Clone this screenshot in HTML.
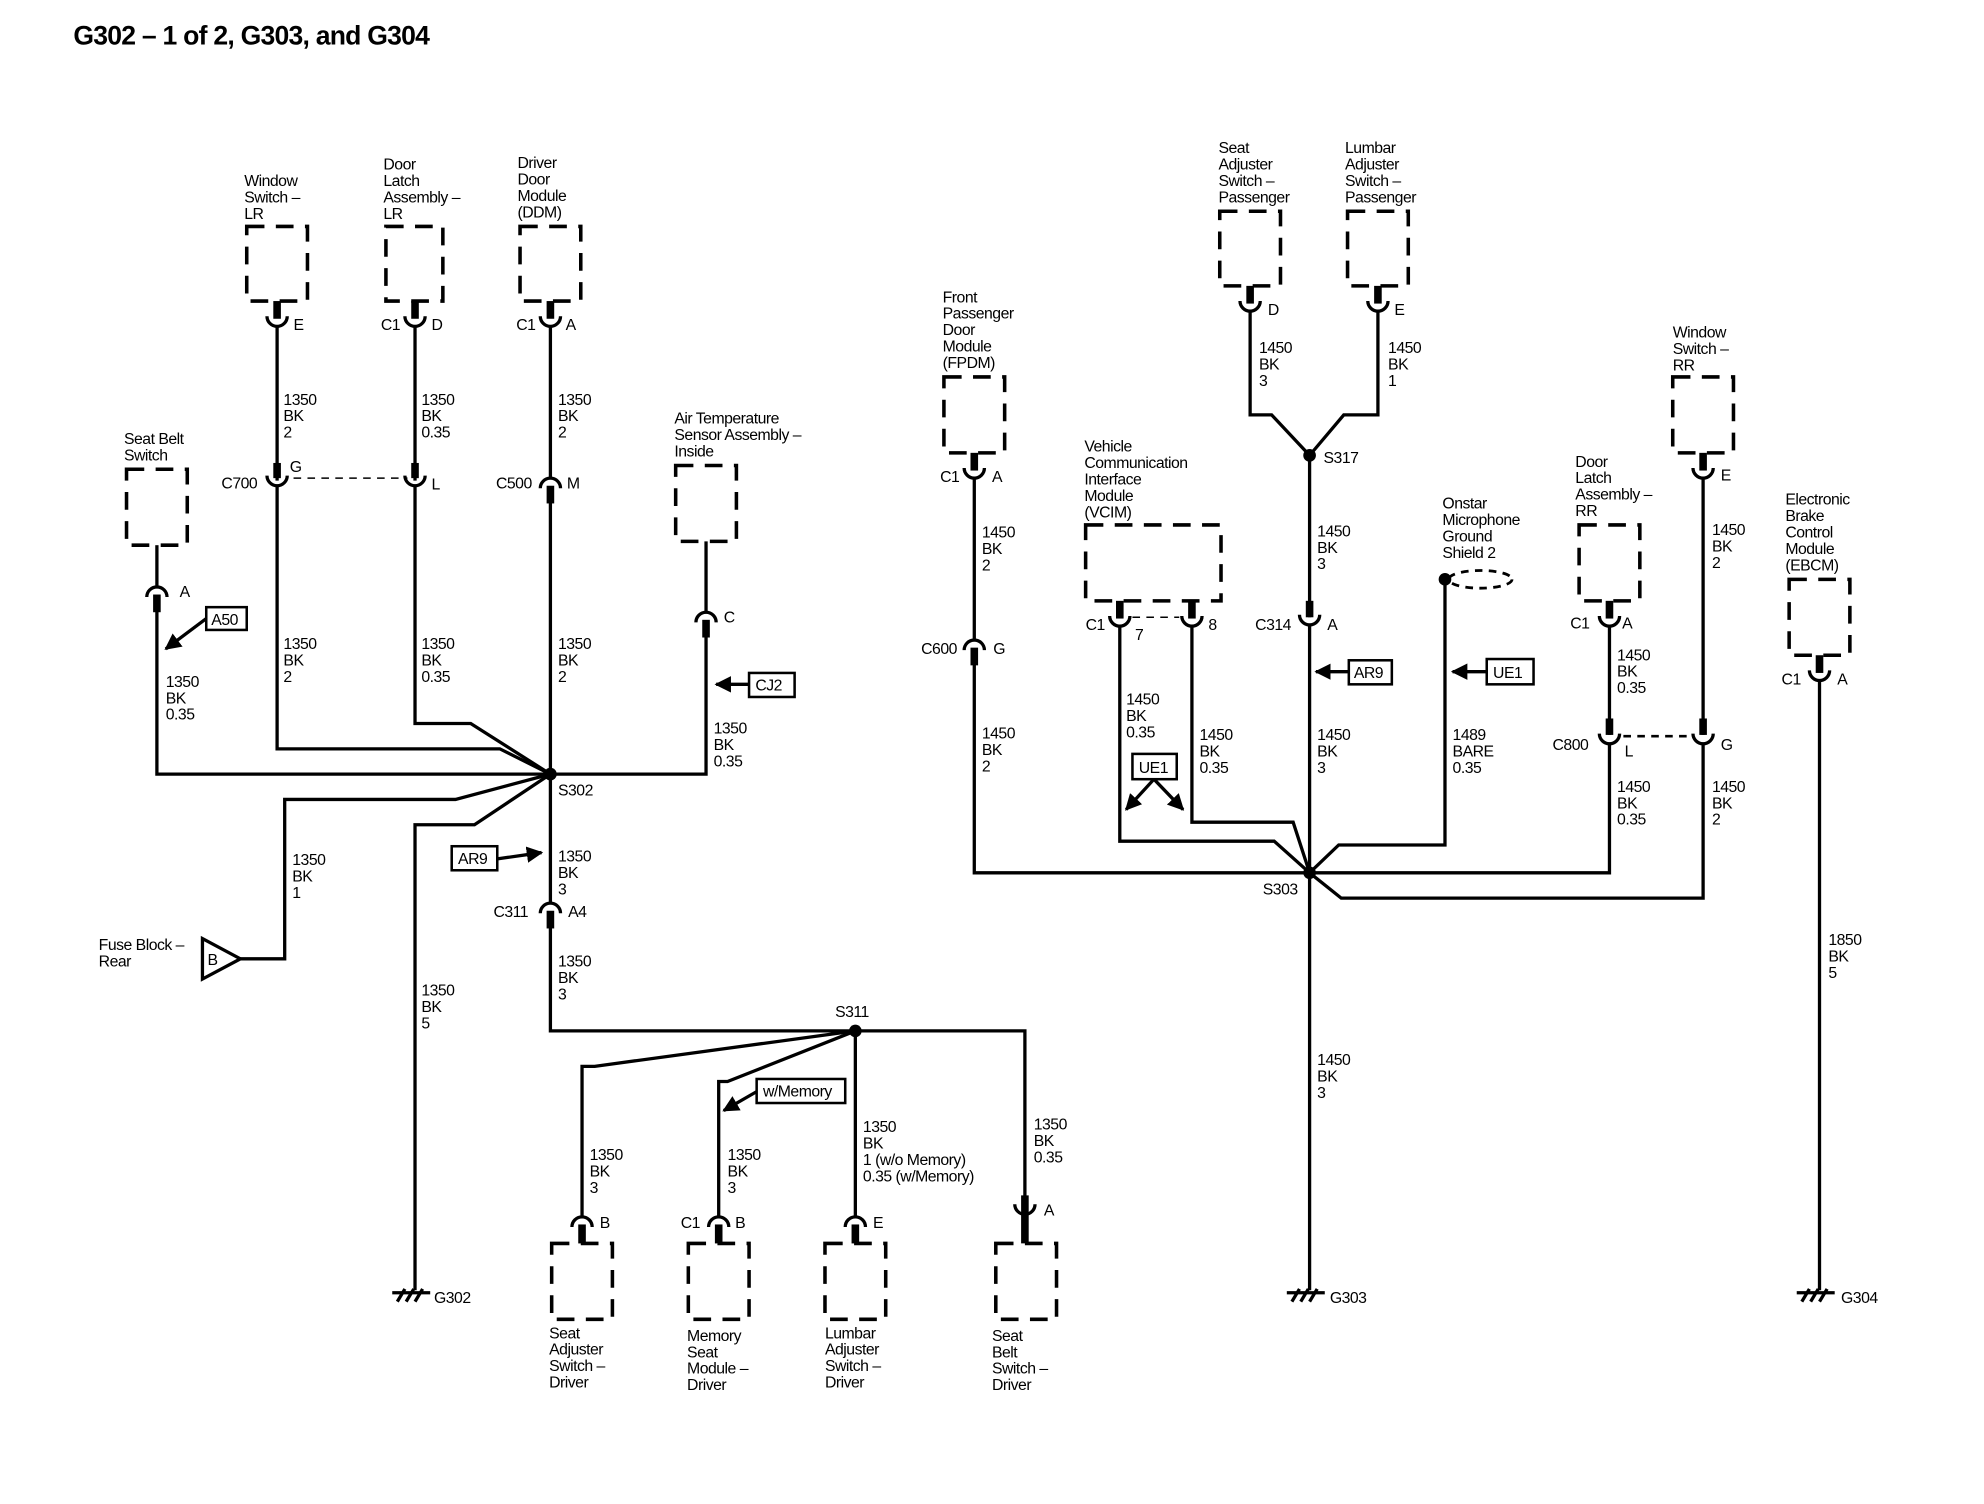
<!DOCTYPE html>
<html><head><style>
html,body{margin:0;padding:0;background:#fff;}
svg{display:block;}
text{font-family:"Liberation Sans",sans-serif;font-size:12.5px;fill:#000;letter-spacing:-0.4px;}
.w{stroke:#000;stroke-width:2.6;fill:none;}
.s{stroke:#000;stroke-width:6;fill:none;}
.b{stroke:#000;stroke-width:2.8;fill:none;stroke-dasharray:14 9;}
.d{stroke:#000;stroke-width:1.2;fill:none;stroke-dasharray:6 5;}
.bx{stroke:#000;stroke-width:2;fill:#fff;}
</style></head><body>
<svg width="1984" height="1504" viewBox="0 0 1568 1189" preserveAspectRatio="none">
<defs>
<marker id="ar" viewBox="0 0 10 10" refX="9" refY="5" markerWidth="5" markerHeight="5" orient="auto-start-reverse"><path d="M0,0 L10,5 L0,10 z" fill="#000"/></marker>
</defs>
<text x="58" y="35" style="font-size:21px;font-weight:bold;letter-spacing:-0.6px">G302 – 1 of 2, G303, and G304</text>

<!-- ===== LEFT ===== -->
<text x="193" y="147"><tspan x="193">Window</tspan><tspan x="193" dy="13">Switch –</tspan><tspan x="193" dy="13">LR</tspan></text>
<rect class="b" x="195" y="179" width="48" height="59"/>
<line class="s" x1="219" y1="238" x2="219" y2="252"/>
<path class="w" d="M211,250 A8,8 0 0 0 227,250"/>
<text x="232" y="261">E</text>
<line class="w" x1="219" y1="258" x2="219" y2="380"/>
<text x="224" y="320"><tspan x="224">1350</tspan><tspan x="224" dy="13">BK</tspan><tspan x="224" dy="13">2</tspan></text>
<line class="s" x1="219" y1="366" x2="219" y2="378"/>
<path class="w" d="M211,376 A8,8 0 0 0 227,376"/>
<text x="229" y="373">G</text><text x="175" y="386">C700</text>
<line class="d" x1="232" y1="378" x2="322" y2="378"/>
<text x="224" y="513"><tspan x="224">1350</tspan><tspan x="224" dy="13">BK</tspan><tspan x="224" dy="13">2</tspan></text>
<polyline class="w" points="219,384 219,592 395,592 435,612"/>

<text x="303" y="134"><tspan x="303">Door</tspan><tspan x="303" dy="13">Latch</tspan><tspan x="303" dy="13">Assembly –</tspan><tspan x="303" dy="13">LR</tspan></text>
<rect class="b" x="305" y="179" width="45" height="59"/>
<line class="s" x1="328" y1="238" x2="328" y2="252"/>
<path class="w" d="M320,250 A8,8 0 0 0 336,250"/>
<text x="301" y="261">C1</text><text x="341" y="261">D</text>
<line class="w" x1="328" y1="258" x2="328" y2="380"/>
<text x="333" y="320"><tspan x="333">1350</tspan><tspan x="333" dy="13">BK</tspan><tspan x="333" dy="13">0.35</tspan></text>
<line class="s" x1="328" y1="366" x2="328" y2="378"/>
<path class="w" d="M320,376 A8,8 0 0 0 336,376"/>
<text x="341" y="387">L</text>
<text x="333" y="513"><tspan x="333">1350</tspan><tspan x="333" dy="13">BK</tspan><tspan x="333" dy="13">0.35</tspan></text>
<polyline class="w" points="328,384 328,572 372,572 435,612"/>

<text x="409" y="133"><tspan x="409">Driver</tspan><tspan x="409" dy="13">Door</tspan><tspan x="409" dy="13">Module</tspan><tspan x="409" dy="13">(DDM)</tspan></text>
<rect class="b" x="411" y="179" width="48" height="59"/>
<line class="s" x1="435" y1="238" x2="435" y2="252"/>
<path class="w" d="M427,250 A8,8 0 0 0 443,250"/>
<text x="408" y="261">C1</text><text x="447" y="261">A</text>
<line class="w" x1="435" y1="258" x2="435" y2="378"/>
<text x="441" y="320"><tspan x="441">1350</tspan><tspan x="441" dy="13">BK</tspan><tspan x="441" dy="13">2</tspan></text>
<path class="w" d="M427,386 A8,8 0 0 1 443,386"/>
<line class="s" x1="435" y1="384" x2="435" y2="398"/>
<text x="392" y="386">C500</text><text x="448" y="386">M</text>
<line class="w" x1="435" y1="396" x2="435" y2="612"/>
<text x="441" y="513"><tspan x="441">1350</tspan><tspan x="441" dy="13">BK</tspan><tspan x="441" dy="13">2</tspan></text>

<text x="98" y="351"><tspan x="98">Seat Belt</tspan><tspan x="98" dy="13">Switch</tspan></text>
<rect class="b" x="100" y="371" width="48" height="60"/>
<line class="w" x1="124" y1="431" x2="124" y2="464"/>
<path class="w" d="M116,472 A8,8 0 0 1 132,472"/>
<line class="s" x1="124" y1="470" x2="124" y2="484"/>
<text x="142" y="472">A</text>
<polyline class="w" points="124,482 124,612 435,612"/>
<text x="131" y="543"><tspan x="131">1350</tspan><tspan x="131" dy="13">BK</tspan><tspan x="131" dy="13">0.35</tspan></text>
<rect class="bx" x="163" y="480" width="32" height="18"/><text x="167" y="494">A50</text>
<line class="w" x1="163" y1="489" x2="131" y2="513" marker-end="url(#ar)"/>

<text x="533" y="335"><tspan x="533">Air Temperature</tspan><tspan x="533" dy="13">Sensor Assembly –</tspan><tspan x="533" dy="13">Inside</tspan></text>
<rect class="b" x="534" y="368" width="48" height="60"/>
<line class="w" x1="558" y1="428" x2="558" y2="484"/>
<path class="w" d="M550,492 A8,8 0 0 1 566,492"/>
<line class="s" x1="558" y1="490" x2="558" y2="504"/>
<text x="572" y="492">C</text>
<polyline class="w" points="558,502 558,612 435,612"/>
<text x="564" y="580"><tspan x="564">1350</tspan><tspan x="564" dy="13">BK</tspan><tspan x="564" dy="13">0.35</tspan></text>
<rect class="bx" x="592" y="532" width="36" height="19"/><text x="597" y="546">CJ2</text>
<line class="w" x1="592" y1="541" x2="566" y2="541" marker-end="url(#ar)"/>

<circle cx="435" cy="612" r="5"/>
<text x="441" y="629">S302</text>
<polyline class="w" points="435,612 360,632 225,632 225,758 190,758"/>
<path class="w" d="M160,742 L190,758 L160,774 z"/>
<text x="164" y="763">B</text>
<text x="78" y="751"><tspan x="78">Fuse Block –</tspan><tspan x="78" dy="13">Rear</tspan></text>
<text x="231" y="684"><tspan x="231">1350</tspan><tspan x="231" dy="13">BK</tspan><tspan x="231" dy="13">1</tspan></text>
<polyline class="w" points="435,612 375,652 328,652 328,1020"/>
<text x="333" y="787"><tspan x="333">1350</tspan><tspan x="333" dy="13">BK</tspan><tspan x="333" dy="13">5</tspan></text>
<line class="w" x1="310" y1="1022" x2="340" y2="1022"/><path class="w" d="M314,1029 L320,1019 M321,1029 L327,1019 M328,1029 L334,1019"/>
<text x="343" y="1030">G302</text>

<line class="w" x1="435" y1="612" x2="435" y2="714"/>
<text x="441" y="681"><tspan x="441">1350</tspan><tspan x="441" dy="13">BK</tspan><tspan x="441" dy="13">3</tspan></text>
<rect class="bx" x="357" y="669" width="36" height="19"/><text x="362" y="683">AR9</text>
<line class="w" x1="393" y1="679" x2="428" y2="674" marker-end="url(#ar)"/>
<path class="w" d="M427,722 A8,8 0 0 1 443,722"/>
<line class="s" x1="435" y1="720" x2="435" y2="734"/>
<text x="390" y="725">C311</text><text x="449" y="725">A4</text>
<polyline class="w" points="435,732 435,815 810,815 810,950"/>
<text x="441" y="764"><tspan x="441">1350</tspan><tspan x="441" dy="13">BK</tspan><tspan x="441" dy="13">3</tspan></text>
<circle cx="676" cy="815" r="5"/>
<text x="660" y="804">S311</text>

<polyline class="w" points="676,815 470,843 460,843 460,962"/>
<polyline class="w" points="676,815 575,855 568,855 568,962"/>
<line class="w" x1="676" y1="815" x2="676" y2="962"/>
<text x="466" y="917"><tspan x="466">1350</tspan><tspan x="466" dy="13">BK</tspan><tspan x="466" dy="13">3</tspan></text>
<text x="575" y="917"><tspan x="575">1350</tspan><tspan x="575" dy="13">BK</tspan><tspan x="575" dy="13">3</tspan></text>
<text x="682" y="895"><tspan x="682">1350</tspan><tspan x="682" dy="13">BK</tspan><tspan x="682" dy="13">1 (w/o Memory)</tspan><tspan x="682" dy="13">0.35 (w/Memory)</tspan></text>
<text x="817" y="893"><tspan x="817">1350</tspan><tspan x="817" dy="13">BK</tspan><tspan x="817" dy="13">0.35</tspan></text>
<rect class="bx" x="598" y="853" width="70" height="19"/><text x="603" y="867">w/Memory</text>
<line class="w" x1="598" y1="863" x2="572" y2="878" marker-end="url(#ar)"/>

<path class="w" d="M452,970 A8,8 0 0 1 468,970"/><line class="s" x1="460" y1="968" x2="460" y2="983"/>
<text x="474" y="971">B</text>
<rect class="b" x="436" y="983" width="48" height="60"/>
<text x="434" y="1058"><tspan x="434">Seat</tspan><tspan x="434" dy="13">Adjuster</tspan><tspan x="434" dy="13">Switch –</tspan><tspan x="434" dy="13">Driver</tspan></text>

<path class="w" d="M560,970 A8,8 0 0 1 576,970"/><line class="s" x1="568" y1="968" x2="568" y2="983"/>
<text x="538" y="971">C1</text><text x="581" y="971">B</text>
<rect class="b" x="544" y="983" width="48" height="60"/>
<text x="543" y="1060"><tspan x="543">Memory</tspan><tspan x="543" dy="13">Seat</tspan><tspan x="543" dy="13">Module –</tspan><tspan x="543" dy="13">Driver</tspan></text>

<path class="w" d="M668,970 A8,8 0 0 1 684,970"/><line class="s" x1="676" y1="968" x2="676" y2="983"/>
<text x="690" y="971">E</text>
<rect class="b" x="652" y="983" width="48" height="60"/>
<text x="652" y="1058"><tspan x="652">Lumbar</tspan><tspan x="652" dy="13">Adjuster</tspan><tspan x="652" dy="13">Switch –</tspan><tspan x="652" dy="13">Driver</tspan></text>

<path class="w" d="M802,952 A8,8 0 0 0 818,952"/><line class="s" x1="810" y1="945" x2="810" y2="983"/>
<text x="825" y="961">A</text>
<rect class="b" x="787" y="983" width="48" height="60"/>
<text x="784" y="1060"><tspan x="784">Seat</tspan><tspan x="784" dy="13">Belt</tspan><tspan x="784" dy="13">Switch –</tspan><tspan x="784" dy="13">Driver</tspan></text>

<!-- ===== RIGHT ===== -->
<text x="745" y="239"><tspan x="745">Front</tspan><tspan x="745" dy="13">Passenger</tspan><tspan x="745" dy="13">Door</tspan><tspan x="745" dy="13">Module</tspan><tspan x="745" dy="13">(FPDM)</tspan></text>
<rect class="b" x="746" y="298" width="48" height="60"/>
<line class="s" x1="770" y1="358" x2="770" y2="372"/>
<path class="w" d="M762,370 A8,8 0 0 0 778,370"/>
<text x="743" y="381">C1</text><text x="784" y="381">A</text>
<line class="w" x1="770" y1="378" x2="770" y2="506"/>
<text x="776" y="425"><tspan x="776">1450</tspan><tspan x="776" dy="13">BK</tspan><tspan x="776" dy="13">2</tspan></text>
<path class="w" d="M762,514 A8,8 0 0 1 778,514"/><line class="s" x1="770" y1="512" x2="770" y2="526"/>
<text x="728" y="517">C600</text><text x="785" y="517">G</text>
<polyline class="w" points="770,524 770,690 1035,690"/>
<text x="776" y="584"><tspan x="776">1450</tspan><tspan x="776" dy="13">BK</tspan><tspan x="776" dy="13">2</tspan></text>

<text x="963" y="121"><tspan x="963">Seat</tspan><tspan x="963" dy="13">Adjuster</tspan><tspan x="963" dy="13">Switch –</tspan><tspan x="963" dy="13">Passenger</tspan></text>
<rect class="b" x="964" y="167" width="48" height="59"/>
<line class="s" x1="988" y1="226" x2="988" y2="240"/>
<path class="w" d="M980,238 A8,8 0 0 0 996,238"/><text x="1002" y="249">D</text>
<polyline class="w" points="988,246 988,328 1005,328 1035,360"/>
<text x="995" y="279"><tspan x="995">1450</tspan><tspan x="995" dy="13">BK</tspan><tspan x="995" dy="13">3</tspan></text>
<text x="1063" y="121"><tspan x="1063">Lumbar</tspan><tspan x="1063" dy="13">Adjuster</tspan><tspan x="1063" dy="13">Switch –</tspan><tspan x="1063" dy="13">Passenger</tspan></text>
<rect class="b" x="1065" y="167" width="48" height="59"/>
<line class="s" x1="1089" y1="226" x2="1089" y2="240"/>
<path class="w" d="M1081,238 A8,8 0 0 0 1097,238"/><text x="1102" y="249">E</text>
<polyline class="w" points="1089,246 1089,328 1062,328 1035,360"/>
<text x="1097" y="279"><tspan x="1097">1450</tspan><tspan x="1097" dy="13">BK</tspan><tspan x="1097" dy="13">1</tspan></text>
<circle cx="1035" cy="360" r="5"/><text x="1046" y="366">S317</text>
<line class="w" x1="1035" y1="360" x2="1035" y2="488"/>
<line class="s" x1="1035" y1="475" x2="1035" y2="488"/>
<text x="1041" y="424"><tspan x="1041">1450</tspan><tspan x="1041" dy="13">BK</tspan><tspan x="1041" dy="13">3</tspan></text>
<path class="w" d="M1027,486 A8,8 0 0 0 1043,486"/>
<text x="992" y="498">C314</text><text x="1049" y="498">A</text>
<line class="w" x1="1035" y1="494" x2="1035" y2="1020"/>
<rect class="bx" x="1066" y="522" width="34" height="19"/><text x="1070" y="536">AR9</text>
<line class="w" x1="1066" y1="531" x2="1040" y2="531" marker-end="url(#ar)"/>
<text x="1041" y="585"><tspan x="1041">1450</tspan><tspan x="1041" dy="13">BK</tspan><tspan x="1041" dy="13">3</tspan></text>
<text x="1041" y="842"><tspan x="1041">1450</tspan><tspan x="1041" dy="13">BK</tspan><tspan x="1041" dy="13">3</tspan></text>
<line class="w" x1="1017" y1="1022" x2="1047" y2="1022"/><path class="w" d="M1021,1029 L1027,1019 M1028,1029 L1034,1019 M1035,1029 L1041,1019"/>
<text x="1051" y="1030">G303</text>

<text x="857" y="357"><tspan x="857">Vehicle</tspan><tspan x="857" dy="13">Communication</tspan><tspan x="857" dy="13">Interface</tspan><tspan x="857" dy="13">Module</tspan><tspan x="857" dy="13">(VCIM)</tspan></text>
<rect class="b" x="858" y="415" width="107" height="60"/>
<line class="s" x1="885" y1="475" x2="885" y2="489"/>
<path class="w" d="M877,487 A8,8 0 0 0 893,487"/>
<line class="s" x1="942" y1="475" x2="942" y2="489"/>
<path class="w" d="M934,487 A8,8 0 0 0 950,487"/>
<line class="d" x1="895" y1="488" x2="932" y2="488"/>
<text x="858" y="498">C1</text><text x="897" y="506">7</text><text x="955" y="498">8</text>
<polyline class="w" points="885,495 885,665 1007,665 1035,690"/>
<polyline class="w" points="942,495 942,650 1022,650 1035,690"/>
<text x="890" y="557"><tspan x="890">1450</tspan><tspan x="890" dy="13">BK</tspan><tspan x="890" dy="13">0.35</tspan></text>
<text x="948" y="585"><tspan x="948">1450</tspan><tspan x="948" dy="13">BK</tspan><tspan x="948" dy="13">0.35</tspan></text>
<rect class="bx" x="895" y="596" width="35" height="20"/><text x="900" y="611">UE1</text>
<line class="w" x1="912" y1="616" x2="890" y2="640" marker-end="url(#ar)"/>
<line class="w" x1="912" y1="616" x2="935" y2="640" marker-end="url(#ar)"/>

<text x="1140" y="402"><tspan x="1140">Onstar</tspan><tspan x="1140" dy="13">Microphone</tspan><tspan x="1140" dy="13">Ground</tspan><tspan x="1140" dy="13">Shield 2</tspan></text>
<circle cx="1142" cy="458" r="5"/>
<ellipse class="d" cx="1170" cy="458" rx="25" ry="7" style="stroke-width:2.2"/>
<polyline class="w" points="1142,458 1142,668 1058,668 1035,690"/>
<rect class="bx" x="1175" y="521" width="37" height="20"/><text x="1180" y="536">UE1</text>
<line class="w" x1="1175" y1="531" x2="1148" y2="531" marker-end="url(#ar)"/>
<text x="1148" y="585"><tspan x="1148">1489</tspan><tspan x="1148" dy="13">BARE</tspan><tspan x="1148" dy="13">0.35</tspan></text>

<text x="1245" y="369"><tspan x="1245">Door</tspan><tspan x="1245" dy="13">Latch</tspan><tspan x="1245" dy="13">Assembly –</tspan><tspan x="1245" dy="13">RR</tspan></text>
<rect class="b" x="1248" y="415" width="48" height="60"/>
<line class="s" x1="1272" y1="475" x2="1272" y2="489"/>
<path class="w" d="M1264,487 A8,8 0 0 0 1280,487"/>
<text x="1241" y="497">C1</text><text x="1282" y="497">A</text>
<line class="w" x1="1272" y1="495" x2="1272" y2="581"/>
<line class="s" x1="1272" y1="568" x2="1272" y2="581"/>
<path class="w" d="M1264,580 A8,8 0 0 0 1280,580"/>
<text x="1227" y="593">C800</text><text x="1284" y="598">L</text>
<line class="d" x1="1283" y1="582" x2="1335" y2="582" style="stroke-width:2"/>
<polyline class="w" points="1272,588 1272,690 1035,690"/>
<text x="1278" y="522"><tspan x="1278">1450</tspan><tspan x="1278" dy="13">BK</tspan><tspan x="1278" dy="13">0.35</tspan></text>
<text x="1278" y="626"><tspan x="1278">1450</tspan><tspan x="1278" dy="13">BK</tspan><tspan x="1278" dy="13">0.35</tspan></text>

<text x="1322" y="267"><tspan x="1322">Window</tspan><tspan x="1322" dy="13">Switch –</tspan><tspan x="1322" dy="13">RR</tspan></text>
<rect class="b" x="1322" y="298" width="48" height="60"/>
<line class="s" x1="1346" y1="358" x2="1346" y2="372"/>
<path class="w" d="M1338,370 A8,8 0 0 0 1354,370"/><text x="1360" y="380">E</text>
<line class="w" x1="1346" y1="378" x2="1346" y2="581"/>
<line class="s" x1="1346" y1="568" x2="1346" y2="581"/>
<path class="w" d="M1338,580 A8,8 0 0 0 1354,580"/><text x="1360" y="593">G</text>
<polyline class="w" points="1346,588 1346,710 1060,710 1035,690"/>
<text x="1353" y="423"><tspan x="1353">1450</tspan><tspan x="1353" dy="13">BK</tspan><tspan x="1353" dy="13">2</tspan></text>
<text x="1353" y="626"><tspan x="1353">1450</tspan><tspan x="1353" dy="13">BK</tspan><tspan x="1353" dy="13">2</tspan></text>

<circle cx="1035" cy="690" r="5"/><text x="998" y="707">S303</text>

<text x="1411" y="399"><tspan x="1411">Electronic</tspan><tspan x="1411" dy="13">Brake</tspan><tspan x="1411" dy="13">Control</tspan><tspan x="1411" dy="13">Module</tspan><tspan x="1411" dy="13">(EBCM)</tspan></text>
<rect class="b" x="1414" y="458" width="48" height="60"/>
<line class="s" x1="1438" y1="518" x2="1438" y2="532"/>
<path class="w" d="M1430,530 A8,8 0 0 0 1446,530"/>
<text x="1408" y="541">C1</text><text x="1452" y="541">A</text>
<line class="w" x1="1438" y1="538" x2="1438" y2="1020"/>
<text x="1445" y="747"><tspan x="1445">1850</tspan><tspan x="1445" dy="13">BK</tspan><tspan x="1445" dy="13">5</tspan></text>
<line class="w" x1="1420" y1="1022" x2="1450" y2="1022"/><path class="w" d="M1424,1029 L1430,1019 M1431,1029 L1437,1019 M1438,1029 L1444,1019"/>
<text x="1455" y="1030">G304</text>
</svg>
</body></html>
